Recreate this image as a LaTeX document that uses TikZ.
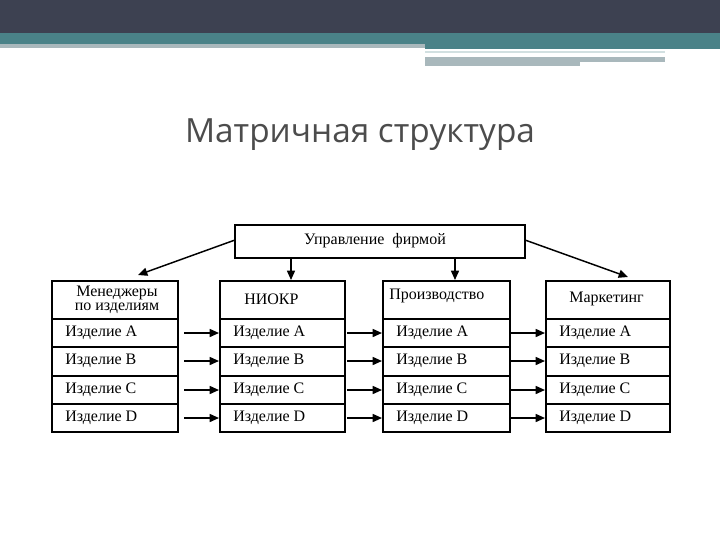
\documentclass[tikz,border=0pt]{standalone}
\usepackage{fontspec}
\setmainfont{Liberation Serif}
\newfontfamily\titlefont{Open Sans}
\usetikzlibrary{arrows.meta}
\definecolor{topbar}{HTML}{3D4151}
\definecolor{teal}{HTML}{4A8288}
\definecolor{ltl}{HTML}{A9B8BC}
\begin{document}
\begin{tikzpicture}[x=0.75pt,y=-0.75pt,
  box/.style={draw,line width=1.5pt},
  lbl/.style={font=\fontsize{12}{12}\selectfont,anchor=west,inner sep=0},
  arr/.style={-{Triangle[length=7pt,width=6pt]},line width=1.1pt}]
\useasboundingbox (0,0) rectangle (720,540);
\fill[topbar] (0,0) rectangle (720,33);
\fill[teal] (0,33) rectangle (720,44);
\fill[teal] (425,44) rectangle (720,49);
\fill[ltl] (0,44) rectangle (425,48);
\fill[teal!25] (425,51) rectangle (665,53);
\fill[ltl] (425,57) rectangle (580,66);
\fill[ltl] (580,57) rectangle (665,62);
\node[font=\titlefont\fontsize{25}{28}\selectfont,text=black!70] (title) at (360,135) {Матричная структура};
\draw[box] (235,225) rectangle (525,258);
\node[lbl,anchor=center] (top) at (375,241) {Управление\ \ фирмой};
\coordinate (tl) at (235,240); \coordinate (tr) at (525,240);
\foreach \i/\x/\w in {1/52/126,2/220/125,3/383/127,4/546/124}{
  \draw[box] (\x,281) rectangle ++(\w,151);
  \draw[line width=1.2pt] (\x,319) -- ++(\w,0) (\x,347) -- ++(\w,0) (\x,376) -- ++(\w,0) (\x,404) -- ++(\w,0);
  \coordinate (c\i) at (\x+\w/2,281);
  \node[lbl] (a\i) at (\x+13,333) {Изделие A};
  \node[lbl] (b\i) at (\x+13,361) {Изделие B};
  \node[lbl] (cc\i) at (\x+13,390) {Изделие C};
  \node[lbl] (d\i) at (\x+13,418) {Изделие D};
}
\node[font=\fontsize{12}{10.5}\selectfont,align=center,inner sep=0] (h1) at (117,300) {Менеджеры\\по изделиям};
\node[lbl] (h2) at (244,299) {НИОКР};
\node[lbl] (h3) at (389,296) {Производство};
\node[lbl] (h4) at (569,299) {Маркетинг};
\draw[arr] (tl) -- (138,275);
\draw[arr] (291,258) -- (291,280);
\draw[arr] (455,258) -- (455,280);
\draw[arr] (tr) -- (628,277);
\foreach \y in {333,361,390,418}{
  \draw[arr] (184,\y) -- (219,\y);
  \draw[arr] (347,\y) -- (382,\y);
  \draw[arr] (511,\y) -- (545,\y);
}
\end{tikzpicture}
\end{document}
